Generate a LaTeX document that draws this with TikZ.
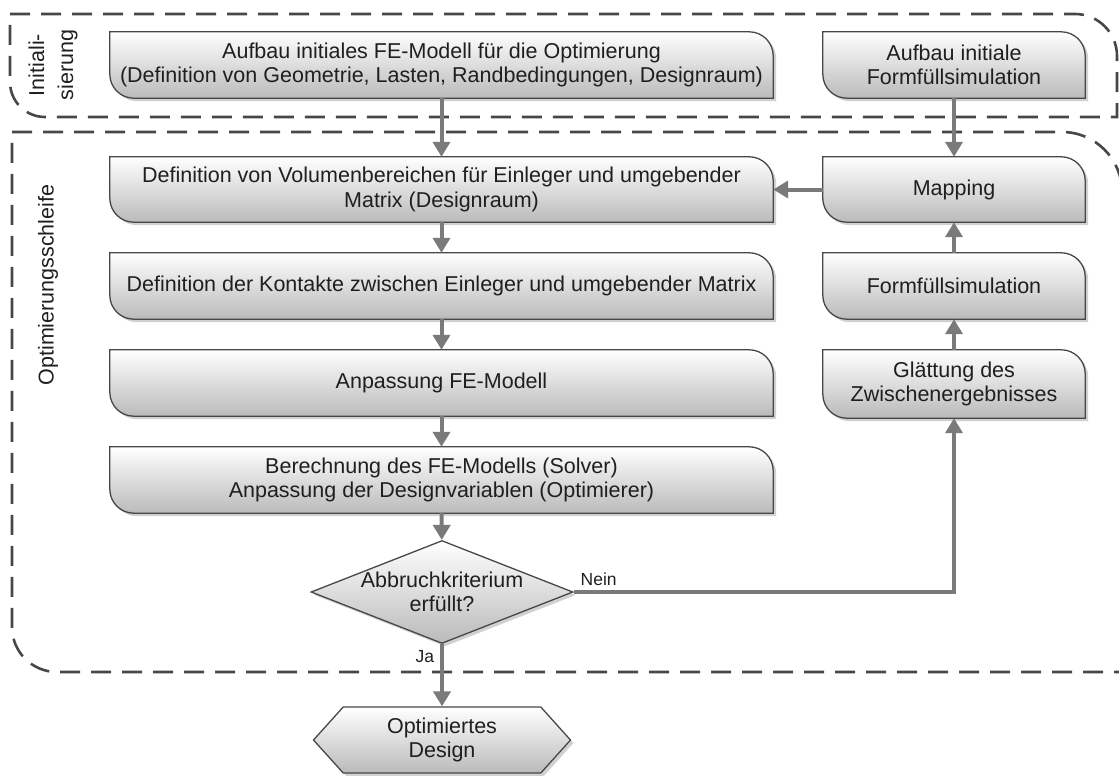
\documentclass[tikz,border=0pt]{standalone}
\usepackage{fontspec}
\setmainfont{Liberation Sans}
\usetikzlibrary{arrows.meta,shapes.geometric,shapes.symbols,shadows,backgrounds}

\tikzset{
  boxtext/.style={align=center,font=\fontsize{21.5}{24.5}\selectfont,text=black!88,inner sep=0pt},
  boxshade/.style={draw=black!72,line width=1.3pt,top color=white,bottom color=black!27,
    drop shadow={shadow xshift=3pt,shadow yshift=-3pt,fill=black!45,opacity=0.4}},
  flowarrow/.style={draw=black!52,line width=4pt,-{Triangle[length=15pt,width=17pt]}},
  loopborder/.style={draw=black!72,line width=2.6pt,dash pattern=on 20pt off 11pt},
  tag/.style={font=\fontsize{17.5}{20}\selectfont,text=black!88,inner sep=0pt}
}

\def\rr{24pt} % corner radius of the boxes
\newcommand\shapebox[1]{\path[boxshade] (#1.north west) -- ([xshift=-\rr]#1.north east)
  arc[start angle=90,end angle=0,radius=\rr] -- (#1.south east) -- ([xshift=\rr]#1.south west)
  arc[start angle=270,end angle=180,radius=\rr] -- cycle;}

\begin{document}
\begin{tikzpicture}[x=1pt,y=1pt]

\useasboundingbox (0,0) rectangle (1119,-776);

%
%left column
%

\node[boxtext,minimum width=663pt,minimum height=66pt] (initfe) at (441.5,-65)
  {Aufbau initiales FE-Modell f\"ur die Optimierung\\(Definition von Geometrie, Lasten, Randbedingungen, Designraum)};
\node[boxtext,minimum width=663pt,minimum height=65pt] (volume) at (441.5,-189.5)
  {Definition von Volumenbereichen f\"ur Einleger und umgebender\\Matrix (Designraum)};
\node[boxtext,minimum width=663pt,minimum height=66pt] (contact) at (441.5,-286)
  {Definition der Kontakte zwischen Einleger und umgebender Matrix};
\node[boxtext,minimum width=663pt,minimum height=66pt] (adapt) at (441.5,-383)
  {Anpassung FE-Modell};
\node[boxtext,minimum width=663pt,minimum height=66pt] (solve) at (441.5,-480)
  {Berechnung des FE-Modells (Solver)\\Anpassung der Designvariablen (Optimierer)};

\node[boxtext,boxshade,diamond,aspect=2.54,inner sep=-3pt,minimum width=262pt,minimum height=103pt] (check) at (442,-592)
  {Abbruchkriterium\\erf\"ullt?};
\node[boxtext,boxshade,signal,signal to=east and west,signal pointer angle=96,minimum width=257pt,minimum height=66pt] (result) at (442,-740)
  {Optimiertes\\Design};

%
%right column
%

\node[boxtext,minimum width=262pt,minimum height=66pt] (initform) at (954,-65)
  {Aufbau initiale\\Formf\"ullsimulation};
\node[boxtext,minimum width=262pt,minimum height=65pt] (mapping) at (954,-189.5) {Mapping};
\node[boxtext,minimum width=262pt,minimum height=66pt] (filling) at (954,-286) {Formf\"ullsimulation};
\node[boxtext,minimum width=262pt,minimum height=68pt] (smooth) at (954,-384)
  {Gl\"attung des\\Zwischenergebnisses};

%side labels
\node[boxtext,rotate=90,font=\fontsize{21.5}{29}\selectfont] (initlabel) at (53,-65) {Initiali-\\sierung};
\node[boxtext,rotate=90] (looplabel) at (48,-285) {Optimierungsschleife};

\begin{scope}[on background layer]
% dashed frames
\draw[loopborder] (10,-14) -- (1075,-14) arc[start angle=90,end angle=0,radius=42] -- (1117,-117)
  -- (45,-117) arc[start angle=270,end angle=180,radius=35] -- cycle; % initialisation
\draw[loopborder] (12,-132) -- (1062,-132) arc[start angle=90,end angle=0,radius=60] -- (1122,-672)
  -- (57,-672) arc[start angle=270,end angle=180,radius=45] -- cycle; % loop
% boxes
\foreach \b in {initfe,volume,contact,adapt,solve,initform,mapping,filling,smooth} \shapebox{\b};
\end{scope}

%arrows
\draw[flowarrow] (initfe) -- (volume);
\draw[flowarrow] (volume) -- (contact);
\draw[flowarrow] (contact) -- (adapt);
\draw[flowarrow] (adapt) -- (solve);
\draw[flowarrow] (solve) -- (check);
\draw[flowarrow] (check.south) node[tag,anchor=north east,xshift=-6pt,yshift=-4pt] (ja) {Ja} -- (result.north);
\draw[flowarrow] (check.east) node[tag,anchor=south west,xshift=5pt,yshift=4pt] (nein) {Nein} -| (smooth.south);
\draw[flowarrow] (smooth) -- (filling);
\draw[flowarrow] (filling) -- (mapping);
\draw[flowarrow] (initform) -- (mapping);
\draw[flowarrow] (mapping) -- (volume);

\end{tikzpicture}
\end{document}
